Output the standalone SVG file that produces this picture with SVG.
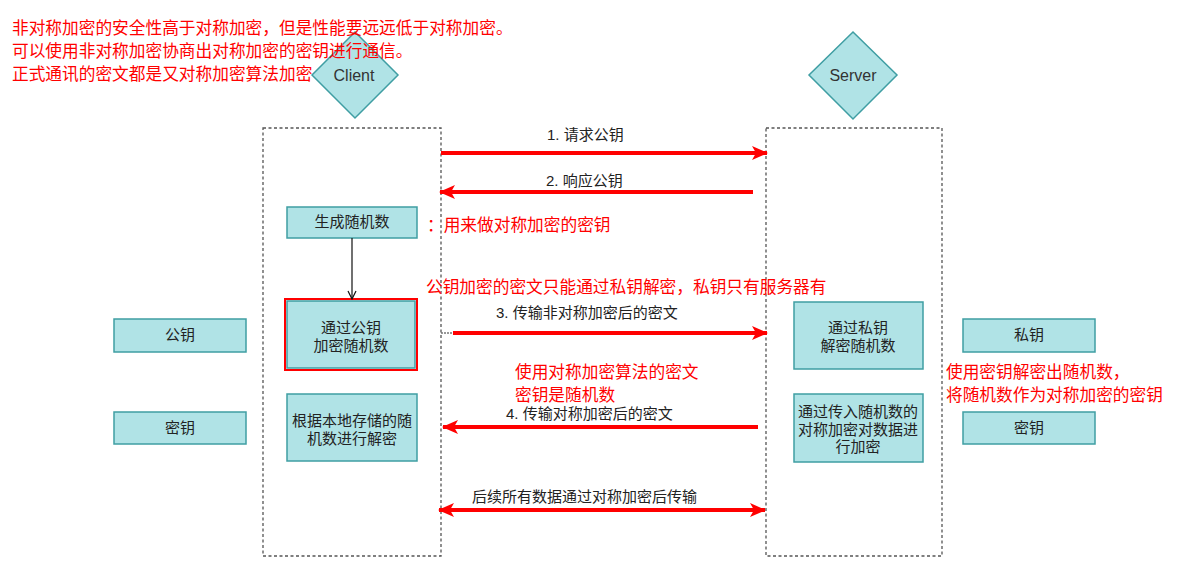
<svg xmlns="http://www.w3.org/2000/svg" width="1189" height="570" viewBox="0 0 1189 570">
<defs>
<style>
.node{fill:#b0e3e6;stroke:#3f9ea3;stroke-width:1.5}
.lane{fill:none;stroke:#555;stroke-width:1.3;stroke-dasharray:3 2.5}
.t{font-family:"Liberation Sans","Noto Sans CJK SC",sans-serif;font-size:15px;fill:#222;text-anchor:middle}
.lbl{font-family:"Liberation Sans","Noto Sans CJK SC",sans-serif;font-size:15px;fill:#222}
.red{font-family:"Noto Sans CJK SC",sans-serif;font-size:16.7px;fill:#ff0000}
.ra{fill:none;stroke:#ff0000;stroke-width:4}
</style>
<marker id="rh" markerWidth="16" markerHeight="14" refX="15" refY="7" orient="auto" markerUnits="userSpaceOnUse"><path d="M0,0 L16,7 L0,14 L4,7 Z" fill="#ff0000"/></marker>
<marker id="rhs" markerWidth="16" markerHeight="14" refX="1" refY="7" orient="auto" markerUnits="userSpaceOnUse"><path d="M16,0 L0,7 L16,14 L12,7 Z" fill="#ff0000"/></marker>
<marker id="bh" markerWidth="10" markerHeight="10" refX="9" refY="5" orient="auto" markerUnits="userSpaceOnUse"><path d="M1,1 L9,5 L1,9" fill="none" stroke="#111" stroke-width="1.2"/></marker>
</defs>
<rect width="1189" height="570" fill="#fff"/>
<g id="client-lane"><rect class="lane" x="263" y="128" width="178" height="428"/></g>
<g id="server-lane"><rect class="lane" x="766" y="128" width="176" height="428"/></g>
<g id="client"><polygon class="node" points="355,32 398,75 355,118 312,75"/><text x="354" y="81" font-family="Liberation Sans,Arial,sans-serif" font-size="16" fill="#333" text-anchor="middle">Client</text></g>
<g id="server"><polygon class="node" points="853,32 897,75 853,119 809,75"/><text x="853" y="81" font-family="Liberation Sans,Arial,sans-serif" font-size="16" fill="#333" text-anchor="middle">Server</text></g>
<g id="note-top">
<text class="red" x="12" y="34">非对称加密的安全性高于对称加密，但是性能要远远低于对称加密。</text>
<text class="red" x="12" y="57" font-size="16.5">可以使用非对称加密协商出对称加密的密钥进行通信。</text>
<text class="red" x="12" y="80" font-size="16.6">正式通讯的密文都是又对称加密算法加密</text>
</g>
<g id="gen-random"><rect class="node" x="287" y="207" width="130" height="31"/><text class="t" x="352" y="227">生成随机数</text></g>
<g id="encrypt-random"><rect class="node" x="287" y="301" width="128" height="67"/><rect x="285" y="299" width="132" height="71" fill="none" stroke="#ff0000" stroke-width="2"/><text class="t" x="351" y="333">通过公钥<tspan x="351" dy="18">加密随机数</tspan></text></g>
<g id="decrypt-local"><rect class="node" x="287" y="394" width="130" height="67"/><text class="t" x="352" y="426">根据本地存储的随<tspan x="352" dy="18">机数进行解密</tspan></text></g>
<g id="decrypt-private"><rect class="node" x="794" y="302" width="129" height="67"/><text class="t" x="858" y="333">通过私钥<tspan x="858" dy="18">解密随机数</tspan></text></g>
<g id="encrypt-data"><rect class="node" x="794" y="394" width="129" height="68"/><text class="t" x="858" y="417">通过传入随机数的<tspan x="858" dy="18">对称加密对数据进</tspan><tspan x="858" dy="17">行加密</tspan></text></g>
<g id="pubkey"><rect class="node" x="114" y="319" width="132" height="33"/><text class="t" x="180" y="340">公钥</text></g>
<g id="key-left"><rect class="node" x="114" y="412" width="132" height="32"/><text class="t" x="180" y="433">密钥</text></g>
<g id="privkey"><rect class="node" x="963" y="319" width="132" height="33"/><text class="t" x="1029" y="340">私钥</text></g>
<g id="key-right"><rect class="node" x="963" y="412" width="132" height="32"/><text class="t" x="1029" y="433">密钥</text></g>
<g id="connectors">
<line class="ra" x1="441" y1="153" x2="767" y2="153" marker-end="url(#rh)"/>
<line class="ra" x1="753" y1="192" x2="440" y2="192" marker-end="url(#rh)"/>
<line x1="352" y1="238" x2="352" y2="299" stroke="#111" stroke-width="1.2" marker-end="url(#bh)"/>
<line x1="441" y1="333" x2="455" y2="333" stroke="#333" stroke-width="1" stroke-dasharray="2 1"/>
<line class="ra" x1="453" y1="333" x2="767" y2="333" marker-end="url(#rh)"/>
<line class="ra" x1="758" y1="427" x2="443" y2="427" marker-end="url(#rh)"/>
<line class="ra" x1="439" y1="510" x2="765" y2="510" marker-start="url(#rhs)" marker-end="url(#rh)"/>
<text class="lbl" x="547" y="140">1. 请求公钥</text>
<text class="lbl" x="546" y="186">2. 响应公钥</text>
<text class="lbl" x="496" y="318">3. 传输非对称加密后的密文</text>
<text class="lbl" x="506" y="419">4. 传输对称加密后的密文</text>
<text class="lbl" x="472" y="502">后续所有数据通过对称加密后传输</text>
</g>
<g id="notes">
<text class="red" x="427" y="231">：用来做对称加密的密钥</text>
<text class="red" x="426" y="293">公钥加密的密文只能通过私钥解密，私钥只有服务器有</text>
<text class="red" x="515" y="378" font-size="16">使用对称加密算法的密文<tspan x="515" dy="23">密钥是随机数</tspan></text>
<text class="red" x="946" y="378" font-size="16.3">使用密钥解密出随机数，<tspan x="946" dy="23">将随机数作为对称加密的密钥</tspan></text>
</g>
</svg>
